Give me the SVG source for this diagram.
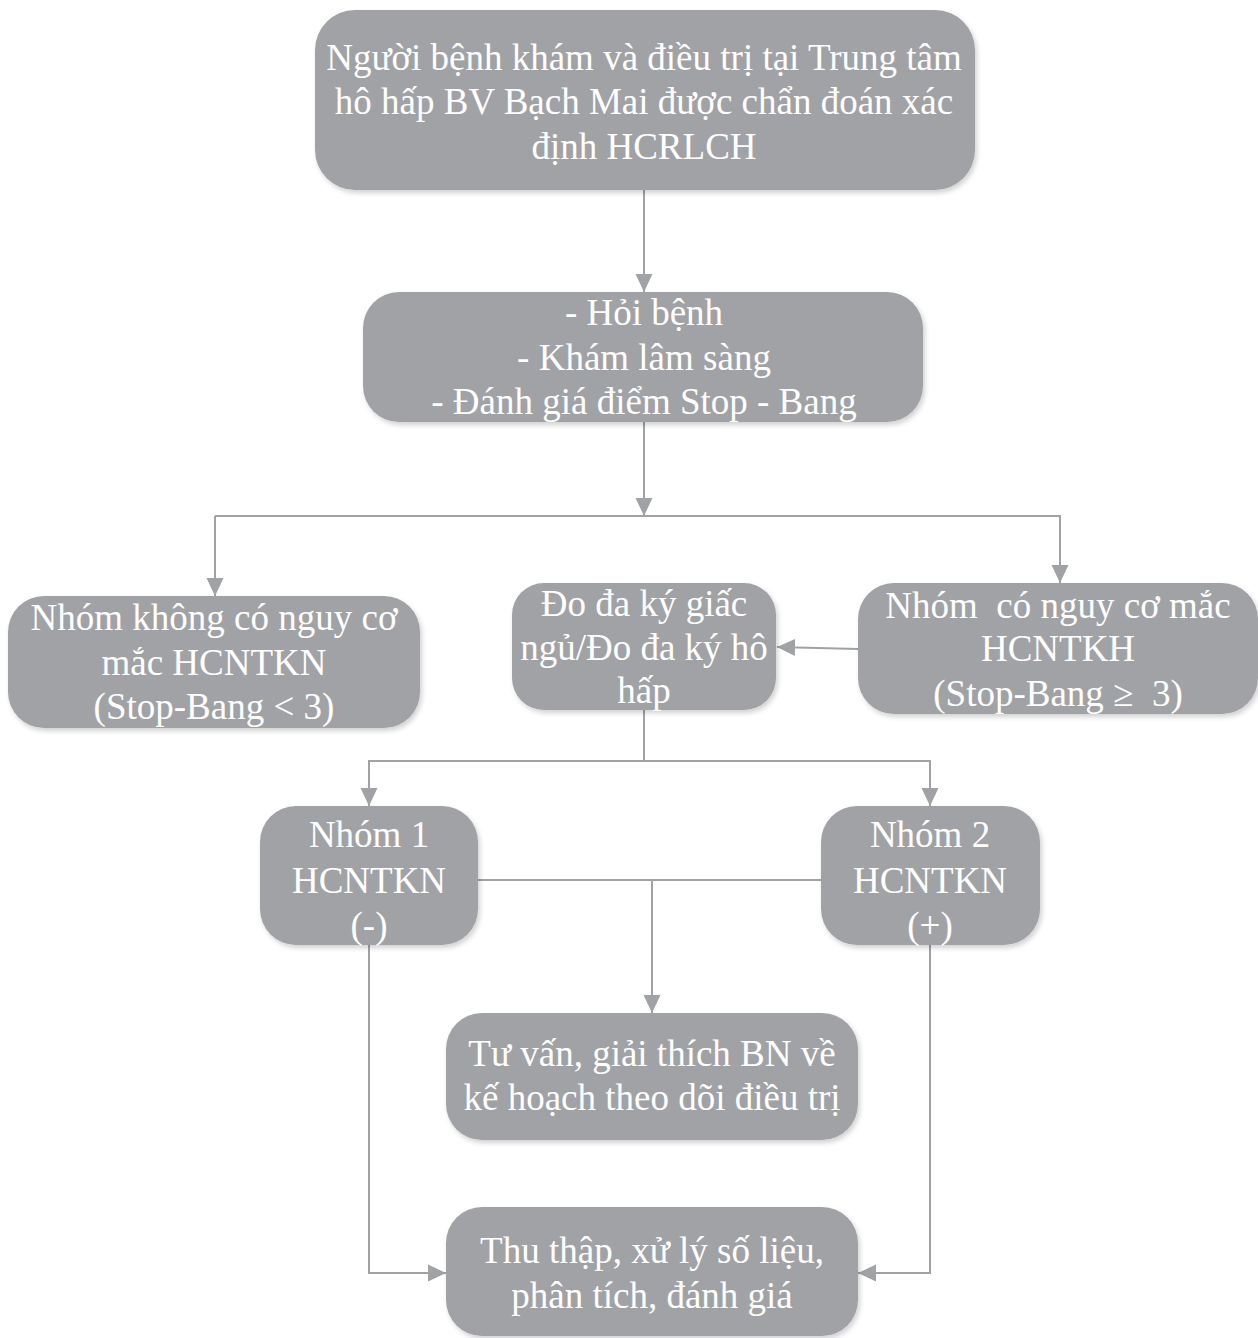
<svg xmlns="http://www.w3.org/2000/svg" width="1258" height="1338" viewBox="0 0 1258 1338">
<defs>
<style>
.box{fill:#a1a2a6;filter:url(#sh);}
.t{font-family:"Liberation Serif","Times New Roman",serif;font-size:37px;fill:#ffffff;text-anchor:middle;white-space:pre;}
.c{fill:none;stroke:#a1a2a6;stroke-width:2;}
</style>
<filter id="sh" x="-10%" y="-10%" width="120%" height="130%">
<feDropShadow dx="2" dy="3" stdDeviation="2.5" flood-color="#000000" flood-opacity="0.18"/>
</filter>
<marker id="ar" markerUnits="userSpaceOnUse" markerWidth="19" markerHeight="19" viewBox="0 0 19 19" refX="18" refY="9.5" orient="auto">
<path d="M0,1 L18,9.5 L0,18 Z" fill="#a1a2a6"/>
</marker>
</defs>
<rect width="1258" height="1338" fill="#ffffff"/>
<g id="connectors">
<path class="c" d="M644,190 V292" marker-end="url(#ar)"/>
<path class="c" d="M644,422 V516" marker-end="url(#ar)"/>
<path class="c" d="M215,516 H1060 V583" marker-end="url(#ar)"/>
<path class="c" d="M215,516 V596" marker-end="url(#ar)"/>
<path class="c" d="M858,649 L777,647" marker-end="url(#ar)"/>
<path class="c" d="M644,710 V761 H930 V806" marker-end="url(#ar)"/>
<path class="c" d="M644,761 H369 V806" marker-end="url(#ar)"/>
<path class="c" d="M478,880 H821"/>
<path class="c" d="M652,880 V1013" marker-end="url(#ar)"/>
<path class="c" d="M369,945 V1273 H446" marker-end="url(#ar)"/>
<path class="c" d="M930,945 V1273 H858" marker-end="url(#ar)"/>
</g>
<g id="n1">
<rect class="box" x="315" y="10" width="660" height="180" rx="40"/>
<text class="t" x="644" y="70">Người bệnh khám và điều trị tại Trung tâm</text>
<text class="t" x="644" y="114">hô hấp BV Bạch Mai được chẩn đoán xác</text>
<text class="t" x="644" y="159">định HCRLCH</text>
</g>
<g id="n2">
<rect class="box" x="363" y="292" width="560" height="130" rx="36"/>
<text class="t" x="644" y="325">- Hỏi bệnh</text>
<text class="t" x="644" y="370">- Khám lâm sàng</text>
<text class="t" x="644" y="414">- Đánh giá điểm Stop - Bang</text>
</g>
<g id="n3">
<rect class="box" x="8" y="596" width="412" height="132" rx="36"/>
<text class="t" x="214" y="630">Nhóm không có nguy cơ</text>
<text class="t" x="214" y="675">mắc HCNTKN</text>
<text class="t" x="214" y="719">(Stop-Bang &lt; 3)</text>
</g>
<g id="n4">
<rect class="box" x="512" y="583" width="264" height="127" rx="32"/>
<text class="t" x="644" y="616">Đo đa ký giấc</text>
<text class="t" x="644" y="660">ngủ/Đo đa ký hô</text>
<text class="t" x="644" y="703">hấp</text>
</g>
<g id="n5">
<rect class="box" x="858" y="583" width="400" height="131" rx="36"/>
<text class="t" x="1058" y="618">Nhóm  có nguy cơ mắc</text>
<text class="t" x="1058" y="661">HCNTKH</text>
<text class="t" x="1058" y="706">(Stop-Bang ≥  3)</text>
</g>
<g id="n6">
<rect class="box" x="260" y="806" width="218" height="139" rx="36"/>
<text class="t" x="369" y="847">Nhóm 1</text>
<text class="t" x="369" y="893">HCNTKN</text>
<text class="t" x="369" y="938">(-)</text>
</g>
<g id="n7">
<rect class="box" x="821" y="806" width="219" height="139" rx="36"/>
<text class="t" x="930" y="847">Nhóm 2</text>
<text class="t" x="930" y="893">HCNTKN</text>
<text class="t" x="930" y="938">(+)</text>
</g>
<g id="n8">
<rect class="box" x="446" y="1013" width="412" height="127" rx="36"/>
<text class="t" x="652" y="1066">Tư vấn, giải thích BN về</text>
<text class="t" x="652" y="1110">kế hoạch theo dõi điều trị</text>
</g>
<g id="n9">
<rect class="box" x="446" y="1207" width="412" height="129" rx="36"/>
<text class="t" x="652" y="1263">Thu thập, xử lý số liệu,</text>
<text class="t" x="652" y="1308">phân tích, đánh giá</text>
</g>
</svg>
